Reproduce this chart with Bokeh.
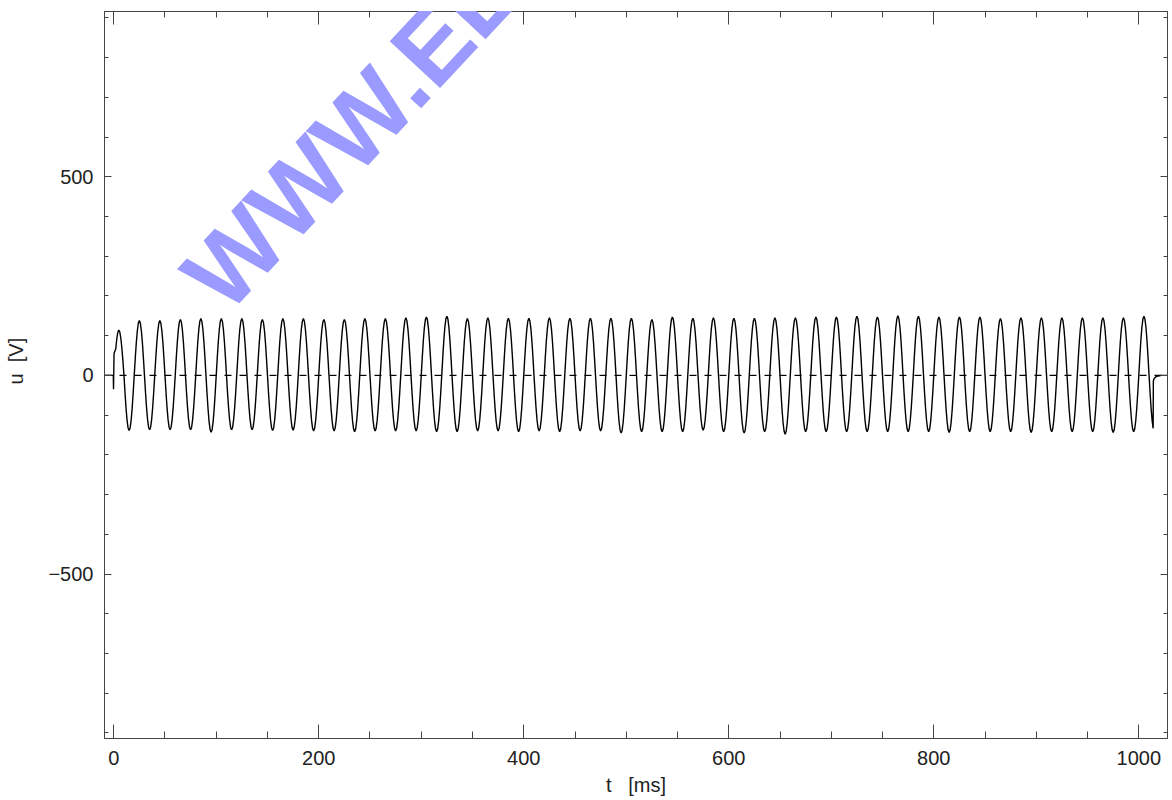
import numpy as np
from bokeh.plotting import figure
from bokeh.models import (Range1d, LinearAxis, SingleIntervalTicker,
                          CustomJSTickFormatter, ColumnDataSource)
from bokeh.embed import file_html
from bokeh.resources import INLINE
try:
    from bokeh.models import HTMLLabel
except Exception:
    HTMLLabel = None

# ---- data ----
# positive half-wave peak values [V], one per 20 ms cycle (peaks at 5, 25, ..., 1005 ms)
peak_v = [114, 138, 138, 141, 143, 143, 143, 141, 143,
          143, 141, 141, 143, 143, 145, 147, 149,
          143, 145, 144, 144, 145, 144, 144, 144, 144,
          141, 147, 144, 145, 144, 144, 145, 145,
          147, 147, 149, 147, 150, 149, 147, 147, 147,
          143, 145, 145, 145, 145, 145, 145, 149]
# negative half-wave trough values [V] (troughs at 15, 35, ..., 995 ms)
trough_v = [-139, -137, -137, -137, -143, -137, -137, -139,
            -138, -140, -140, -142, -140, -140, -140, -142, -142,
            -140, -140, -142, -140, -142, -140, -140, -145,
            -142, -142, -142, -138, -142, -145, -142, -148, -142,
            -142, -142, -142, -142, -142, -142, -144, -142,
            -142, -142, -144, -142, -142, -142, -144, -142]
last_trough_v = -140          # amplitude of the interrupted last half-wave
# shape of one half-wave, sampled every 1 ms over 10 ms
half_shape = [0.0, 0.309, 0.588, 0.809, 0.951, 1.0, 0.951, 0.809, 0.588, 0.309]
# switch-on transient
start_t = [-9, -0.4, -0.2, 0.3]
start_u = [0, 0, -35, 55]
# switch-off transient
end_t = [1014.2, 1015, 1016, 1017, 1018.5, 1020, 1022, 1028]
end_u = [-14, -8, -5, -3, -2, -1, 0, 0]
# zero reference line
ref_level = 0
# watermark
wm_text = "WWW.EL"
wm_t = 128
wm_u = 108

x_range = (-9, 1028)
y_range = (-914, 916)
x_ticks_interval = 200
y_ticks_interval = 500

# ---- build the trace ----
t = list(start_t)
u = list(start_u)
for k, a in enumerate(peak_v):
    t0 = k * 20
    first = 2 if k == 0 else 0
    for i in range(first, 10):
        t.append(t0 + i)
        u.append(a * half_shape[i])
    if k < len(trough_v):
        for i in range(10):
            t.append(t0 + 10 + i)
            u.append(trough_v[k] * half_shape[i])
    else:
        for i in range(5):
            t.append(t0 + 10 + i)
            u.append(last_trough_v * half_shape[i])
t += end_t
u += end_u
src = ColumnDataSource(dict(t=t, u=u))

# dashed zero line drawn as short segments (7 px dash, 8 px gap)
px_per_ms = 1063 / (x_range[1] - x_range[0])
d0 = np.arange(x_range[0], x_range[1], 15 / px_per_ms)
d1 = np.minimum(d0 + 7 / px_per_ms, x_range[1])
dash_src = ColumnDataSource(dict(x0=d0, x1=d1, y=np.full(len(d0), ref_level)))

FONT = "Liberation Sans"
AX = "#444444"
TXT = "#222222"

p = figure(width=1172, height=800, output_backend="svg", toolbar_location=None,
           x_range=Range1d(*x_range), y_range=Range1d(*y_range),
           min_border_left=104, min_border_right=5, min_border_top=11,
           min_border_bottom=62, background_fill_color="white",
           border_fill_color="white")
p.outline_line_color = AX
p.grid.visible = False

p.segment(x0="x0", y0="y", x1="x1", y1="y", source=dash_src,
          line_color="black", line_width=1.2)
p.line("t", "u", source=src, line_color="black", line_width=1.4)

fmt = CustomJSTickFormatter(code="return tick < 0 ? '\\u2212' + Math.abs(tick) : String(tick);")
blank = CustomJSTickFormatter(code="return '';")

xa = p.xaxis[0]
xa.ticker = SingleIntervalTicker(interval=x_ticks_interval, num_minor_ticks=4)
ya = p.yaxis[0]
ya.ticker = SingleIntervalTicker(interval=y_ticks_interval, num_minor_ticks=5)
ya.formatter = fmt

for ax in (xa, ya):
    ax.axis_line_color = AX
    ax.major_tick_line_color = AX
    ax.minor_tick_line_color = AX
    ax.major_tick_out = 0
    ax.minor_tick_out = 0
    ax.major_label_text_font = FONT
    ax.major_label_text_font_size = "20px"
    ax.major_label_text_color = TXT
    ax.axis_label_text_font = FONT
    ax.axis_label_text_font_size = "20px"
    ax.axis_label_text_font_style = "normal"
    ax.axis_label_text_color = TXT

xa.major_tick_in = 14
xa.minor_tick_in = 7
xa.major_label_standoff = 12
xa.axis_label = "t\u00a0\u00a0\u00a0[ms]"
xa.axis_label_standoff = 6
ya.major_tick_in = 7
ya.minor_tick_in = 4
ya.major_label_standoff = 11
ya.axis_label = "\u00a0\u00a0\u00a0\u00a0\u00a0u\u00a0\u00a0[V]"
ya.axis_label_standoff = 18

top = LinearAxis(ticker=SingleIntervalTicker(interval=x_ticks_interval, num_minor_ticks=4),
                 formatter=blank)
right = LinearAxis(ticker=SingleIntervalTicker(interval=y_ticks_interval, num_minor_ticks=5),
                   formatter=blank)
for ax in (top, right):
    ax.axis_line_color = AX
    ax.major_tick_line_color = AX
    ax.minor_tick_line_color = AX
    ax.major_tick_out = 0
    ax.minor_tick_out = 0
    ax.major_label_standoff = 0
top.major_tick_in = 13
top.minor_tick_in = 6
right.major_tick_in = 7
right.minor_tick_in = 4
p.add_layout(top, "above")
p.add_layout(right, "right")

# watermark as an HTML label (rotated by CSS), added last
if HTMLLabel is not None:
    p.add_layout(HTMLLabel(x=wm_t, y=wm_u, text=wm_text, angle=0.8203,
                           text_font=FONT, text_font_style="bold",
                           text_font_size="100px", text_color="#9a9aff"))

open("out.html", "w").write(file_html(p, INLINE))
